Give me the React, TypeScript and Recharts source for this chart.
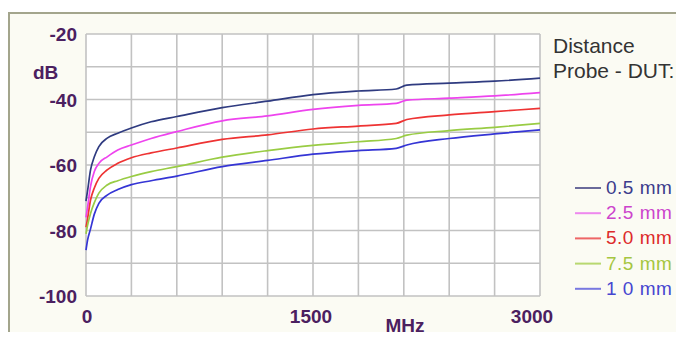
import React from 'react';
import { LineChart, Line, XAxis, YAxis, CartesianGrid } from 'recharts';

const freqMHz = [0, 10, 30, 55, 85, 140, 210, 300, 430, 600, 900, 1200, 1500, 1800, 2050, 2120, 2400, 2700, 3000];
const mm05 = [-71, -68, -61.5, -57.5, -54.4, -51.8, -50.3, -48.7, -46.8, -45.2, -42.5, -40.5, -38.5, -37.4, -36.8, -35.6, -35, -34.4, -33.5];
const mm25 = [-76, -73, -66.5, -62, -59.5, -57.5, -55.4, -53.9, -51.9, -49.8, -46.5, -45, -43, -41.8, -41.2, -40.2, -39.6, -38.9, -37.9];
const mm50 = [-79, -76.5, -70.7, -67, -64.1, -61.5, -59.5, -57.8, -56.3, -54.8, -52.2, -50.8, -49, -48.1, -47.3, -46.1, -44.7, -43.7, -42.7];
const mm75 = [-81, -78.5, -74.8, -71.5, -68.6, -66.1, -64.8, -63.5, -62, -60.5, -57.6, -55.6, -54, -52.9, -51.9, -50.9, -49.5, -48.5, -47.3];
const mm10 = [-86, -83, -79.5, -75, -71.7, -69.2, -67.5, -66, -64.8, -63.4, -60.5, -58.6, -56.7, -55.6, -54.9, -53.9, -51.9, -50.5, -49.3];

const xTicks = [0, 300, 600, 900, 1200, 1500, 1800, 2100, 2400, 2700, 3000];
const xLabels = [0, 1500, 3000];
const yTicks = [-100, -90, -80, -70, -60, -50, -40, -30, -20];
const yLabels = [-100, -80, -60, -40, -20];

const seriesKeys = ['mm05', 'mm25', 'mm50', 'mm75', 'mm10'];
const seriesNames = ['0.5 mm', '2.5 mm', '5.0 mm', '7.5 mm', '1 0 mm'];
const lineColors = ['#2f3b80', '#ee44ee', '#ee3333', '#99cc44', '#3535d5'];
const legendText = ['#3c3c8c', '#cc44cc', '#dd2a2a', '#a6c640', '#4646d0'];
const legendDash = ['#6a6a9a', '#ee88ee', '#ee6666', '#b8d870', '#7878e0'];

const data = freqMHz.map((f, i) => ({
  f,
  mm05: mm05[i],
  mm25: mm25[i],
  mm50: mm50[i],
  mm75: mm75[i],
  mm10: mm10[i],
}));

const PURPLE = '#4b2060';
const LABEL_FONT = '"Liberation Sans", Arial, sans-serif';

const YTick = (props: any) => {
  const { x, y, payload } = props;
  if (!yLabels.includes(payload.value)) return null;
  return (
    <text x={x - 1} y={y + 7} textAnchor="end" fill={PURPLE} fontFamily={LABEL_FONT} fontWeight="bold" fontSize={19}>
      {payload.value}
    </text>
  );
};

const XTick = (props: any) => {
  const { x, y, payload } = props;
  if (!xLabels.includes(payload.value)) return null;
  const dx = payload.value === 3000 ? -8 : payload.value === 1500 ? -2 : 1;
  return (
    <text x={x + dx} y={y + 18.5} textAnchor="middle" fill={PURPLE} fontFamily={LABEL_FONT} fontWeight="bold" fontSize={19}>
      {payload.value}
    </text>
  );
};

export default function App() {
  return (
    <div style={{ position: 'relative', margin: -8, width: 684, height: 340, background: '#ffffff', overflow: 'hidden' }}>
      <div style={{ position: 'absolute', left: 0, top: 2, width: 684, height: 2.5, background: '#000' }} />
      <div
        style={{
          position: 'absolute',
          left: 8,
          top: 12,
          width: 700,
          height: 340,
          background: '#fbfbf3',
          borderTop: '2px solid #a3a58c',
          borderLeft: '2px solid #a3a58c',
          boxSizing: 'border-box',
        }}
      />
      <div style={{ position: 'absolute', left: 0, top: 0 }}>
        <LineChart width={684} height={340} data={data} margin={{ top: 34, right: 144, bottom: 14, left: 26 }}>
          <CartesianGrid stroke="#c2c2c2" strokeWidth={1.6} fill="#ffffff" />
          <XAxis
            dataKey="f"
            type="number"
            domain={[0, 3000]}
            ticks={xTicks}
            axisLine={false}
            tickLine={false}
            height={30}
            tick={<XTick />}
            interval={0}
          />
          <YAxis
            type="number"
            domain={[-100, -20]}
            ticks={yTicks}
            axisLine={false}
            tickLine={false}
            width={60}
            tick={<YTick />}
            interval={0}
          />
          {seriesKeys.map((k, i) => (
            <Line
              key={k}
              dataKey={k}
              name={seriesNames[i]}
              type="monotone"
              stroke={lineColors[i]}
              strokeWidth={1.7}
              dot={false}
              isAnimationActive={false}
            />
          ))}
        </LineChart>
      </div>
      <svg width={684} height={340} style={{ position: 'absolute', left: 0, top: 0, pointerEvents: 'none' }}>
        <text x={33} y={79} fill={PURPLE} fontFamily={LABEL_FONT} fontWeight="bold" fontSize={19}>dB</text>
        <text x={405} y={332} textAnchor="middle" fill={PURPLE} fontFamily={LABEL_FONT} fontWeight="bold" fontSize={19}>MHz</text>
        <text x={553} y={53} fill="#333333" fontFamily={LABEL_FONT} fontSize={21}>Distance</text>
        <text x={553} y={78} fill="#333333" fontFamily={LABEL_FONT} fontSize={21}>Probe - DUT:</text>
        {seriesNames.map((n, i) => {
          const cy = 187 + i * 25.2;
          return (
            <g key={n}>
              <line x1={575} x2={601} y1={cy + 1} y2={cy + 1} stroke={legendDash[i]} strokeWidth={2} />
              <text x={606} y={cy + 7} fill={legendText[i]} fontFamily={LABEL_FONT} fontSize={19} letterSpacing={0.5} style={{ whiteSpace: 'pre' }}>
                {n}
              </text>
            </g>
          );
        })}
      </svg>
    </div>
  );
}
